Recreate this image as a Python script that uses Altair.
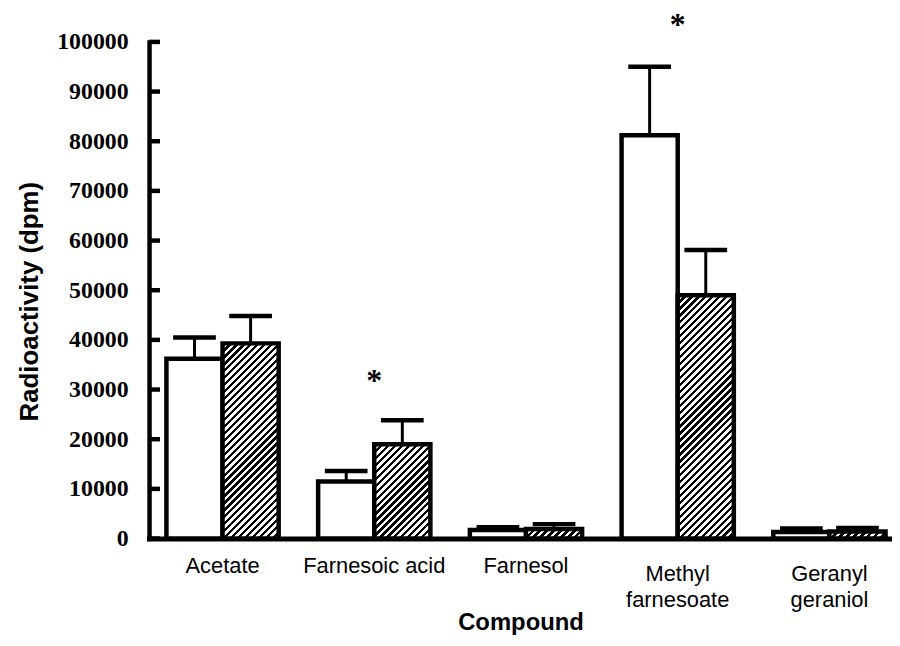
import altair as alt
import pandas as pd

# ---- data ----
compounds = ["Acetate", "Farnesoic acid", "Farnesol", "Methyl farnesoate", "Geranyl geraniol"]
groups = ["Control", "Treated"]
control_mean = [36200, 11500, 1700, 81200, 1300]
control_err = [4300, 2100, 600, 13800, 700]
treated_mean = [39300, 19000, 1900, 49000, 1400]
treated_err = [5500, 4800, 1000, 9100, 700]
y_ticks = [0, 10000, 20000, 30000, 40000, 50000, 60000, 70000, 80000, 90000, 100000]
sig_compounds = ["Farnesoic acid", "Methyl farnesoate"]
sig_y = [32800, 104400]

rows = []
for c, m, e in zip(compounds, control_mean, control_err):
    rows.append({"compound": c, "group": groups[0], "mean": m, "upper": m + e})
for c, m, e in zip(compounds, treated_mean, treated_err):
    rows.append({"compound": c, "group": groups[1], "mean": m, "upper": m + e})
df = pd.DataFrame(rows)
ticks_df = pd.DataFrame({"v": y_ticks})
stars_df = pd.DataFrame({"compound": sig_compounds, "y": sig_y})

# ---- layout ----
W, H = 748, 500
P_IN, P_OUT, ALIGN = 0.2602, 0.0786, 0.729
YMAX = 100000
step = W / (len(compounds) - P_IN + 2 * P_OUT)
bar_w = step * (1 - P_IN) / 2

two_line = "indexof(datum.value, 'Methyl') == 0 || indexof(datum.value, 'Geranyl') == 0"

x_scale = alt.Scale(domain=compounds, paddingInner=P_IN, paddingOuter=P_OUT, align=ALIGN)
x_enc = alt.X(
    "compound:N", sort=compounds, scale=x_scale,
    axis=alt.Axis(
        title="Compound", labelAngle=0, ticks=False, grid=False, domainWidth=5, domainColor="black",
        domainCap="square",
        labelFont="Liberation Sans", labelFontSize=22, labelColor="black",
        labelPadding={"condition": {"test": two_line, "value": 25}, "value": 17},
        labelLineHeight=26,
        labelExpr=two_line + " ? split(datum.value, ' ') : datum.value",
        titleFont="Liberation Sans", titleFontSize=24, titleFontWeight="bold", titleColor="black",
        titleY=92, titleBaseline="alphabetic",
    ),
)
xo_enc = alt.XOffset("group:N", scale=alt.Scale(domain=groups, paddingInner=0, paddingOuter=0))
y_scale = alt.Scale(domain=[0, YMAX], nice=False)
y_enc = alt.Y(
    "mean:Q", scale=y_scale,
    axis=alt.Axis(
        title="Radioactivity (dpm)", values=y_ticks, format="d", ticks=False, grid=False,
        domainWidth=4.5, domainColor="black", domainCap="square",
        labelFont="Liberation Serif", labelFontWeight="bold", labelFontSize=24,
        labelColor="black", labelPadding=21,
        titleFont="Liberation Sans", titleFontSize=26, titleFontWeight="bold", titleColor="black",
        titleX=-120, titleY=261, titleBaseline="middle", titleAlign="center",
    ),
)

base = alt.Chart(df)

white_bars = base.transform_filter(alt.datum.group == groups[0]).mark_bar(
    fill="white", stroke="black", strokeWidth=4.5
).encode(x=x_enc, xOffset=xo_enc, y=y_enc)


def hatch(w, h, period=7.0, frac=0.47):
    s = w + h
    n = s / period
    k = s / (w * w + h * h)
    stops = []
    i = 0
    while i / n < 1:
        a = i / n
        b = min((i + frac) / n, 1.0)
        stops += [(a, "black"), (b, "black")]
        if b < 1:
            c = min((i + 1) / n, 1.0)
            stops += [(b, "white"), (c, "white")]
        i += 1
    return alt.LinearGradient(
        gradient="linear",
        stops=[alt.GradientStop(offset=round(o, 5), color=col) for o, col in stops],
        x1=0, y1=0, x2=k * w, y2=k * h,
    )


hatched_layers = []
for c, m in zip(compounds, treated_mean):
    h_px = m * H / YMAX
    hatched_layers.append(
        base.transform_filter((alt.datum.group == groups[1]) & (alt.datum.compound == c))
        .mark_bar(fill=hatch(bar_w, h_px), stroke="black", strokeWidth=4.5)
        .encode(x=x_enc, xOffset=xo_enc, y=y_enc)
    )

err_rules = base.mark_rule(color="black", strokeWidth=3, opacity=1).encode(
    x=x_enc, xOffset=xo_enc, y=y_enc, y2="upper:Q"
)
err_caps = base.mark_tick(color="black", thickness=4.5, size=43, orient="horizontal", opacity=1).encode(
    x=x_enc, xOffset=xo_enc, y=alt.Y("upper:Q", scale=y_scale)
)

y_tick_marks = alt.Chart(ticks_df).mark_rule(color="black", strokeWidth=4.5).encode(
    y=alt.Y("v:Q", scale=y_scale),
    x=alt.value(0), x2=alt.value(11),
)

stars = alt.Chart(stars_df).mark_text(
    text="*", font="Liberation Serif", fontWeight="bold", fontSize=32, color="black",
    baseline="top", dy=-10,
).encode(
    x=alt.X("compound:N", sort=compounds, scale=x_scale),
    y=alt.Y("y:Q", scale=y_scale),
)

chart = alt.layer(
    white_bars, *hatched_layers, err_rules, err_caps, y_tick_marks, stars
).properties(
    width=W, height=H,
    autosize=alt.AutoSizeParams(type="none"),
    padding={"left": 142, "top": 32, "right": 0, "bottom": 98},
    background="white",
).configure_view(stroke=None).configure_axis(grid=False)

chart.save("out.html", embed_options={"renderer": "svg", "actions": False})
